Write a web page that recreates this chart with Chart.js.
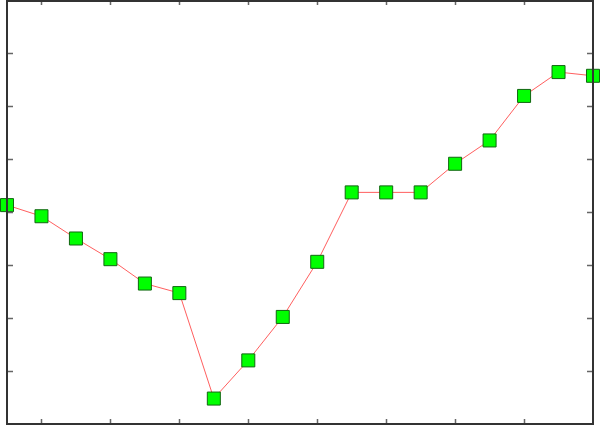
<!DOCTYPE html>
<html>
<head>
<meta charset="utf-8">
<script src="https://cdn.jsdelivr.net/npm/chart.js@4/dist/chart.umd.min.js"></script>
<style>
  html, body { margin: 0; padding: 0; background: #fff; }
  #wrap { width: 600px; height: 425px; }
</style>
</head>
<body>
<div id="wrap"><canvas id="grafico"></canvas></div>
<script>
const xValores = [1, 2, 3, 4, 5, 6, 7, 8, 9, 10, 11, 12, 13, 14, 15, 16, 17, 18];
const yValores = [4.13, 3.92, 3.50, 3.11, 2.65, 2.47, 0.48, 1.20, 2.02, 3.06, 4.37, 4.37, 4.37, 4.91, 5.35, 6.19, 6.64, 6.57];
const xTicks = [2, 4, 6, 8, 10, 12, 14, 16];
const yTicks = [1, 2, 3, 4, 5, 6, 7];

const pontos = xValores.map((x, i) => ({ x: x, y: yValores[i] }));

// moldura com marcas para dentro nos quatro lados
const moldura = {
    id: 'moldura',
    afterDraw(chart) {
        const ctx = chart.ctx;
        const a = chart.chartArea;
        const sx = chart.scales.x;
        const sy = chart.scales.y;
        ctx.save();
        ctx.strokeStyle = '#666';
        ctx.lineWidth = 1.5;
        ctx.beginPath();
        xTicks.forEach(v => {
            const px = Math.round(sx.getPixelForValue(v)) + 0.5;
            ctx.moveTo(px, a.bottom); ctx.lineTo(px, a.bottom - 5);
            ctx.moveTo(px, a.top); ctx.lineTo(px, a.top + 5);
        });
        yTicks.forEach(v => {
            const py = Math.round(sy.getPixelForValue(v)) + 0.5;
            ctx.moveTo(a.left, py); ctx.lineTo(a.left + 6, py);
            ctx.moveTo(a.right, py); ctx.lineTo(a.right - 6, py);
        });
        ctx.stroke();
        ctx.strokeStyle = '#333';
        ctx.lineWidth = 2;
        ctx.strokeRect(a.left, a.top + 1, a.right - a.left, a.bottom - a.top - 1);
        ctx.restore();
    }
};

new Chart(document.getElementById('grafico'), {
    type: 'line',
    data: {
        datasets: [{
            data: pontos,
            borderColor: 'rgba(255, 40, 40, 0.75)',
            borderWidth: 1,
            pointStyle: 'rect',
            pointRadius: 9.2,
            pointHoverRadius: 9.2,
            pointBackgroundColor: '#00ff00',
            pointBorderColor: '#116611',
            pointBorderWidth: 1,
            tension: 0,
            clip: false
        }]
    },
    options: {
        responsive: true,
        maintainAspectRatio: false,
        animation: false,
        layout: { autoPadding: false, padding: { left: 7, right: 7, top: 0, bottom: 1 } },
        scales: {
            x: { type: 'linear', min: 1, max: 18, display: false },
            y: { type: 'linear', min: 0, max: 8, display: false }
        },
        plugins: {
            legend: { display: false },
            tooltip: { enabled: false }
        }
    },
    plugins: [moldura]
});
</script>
</body>
</html>
